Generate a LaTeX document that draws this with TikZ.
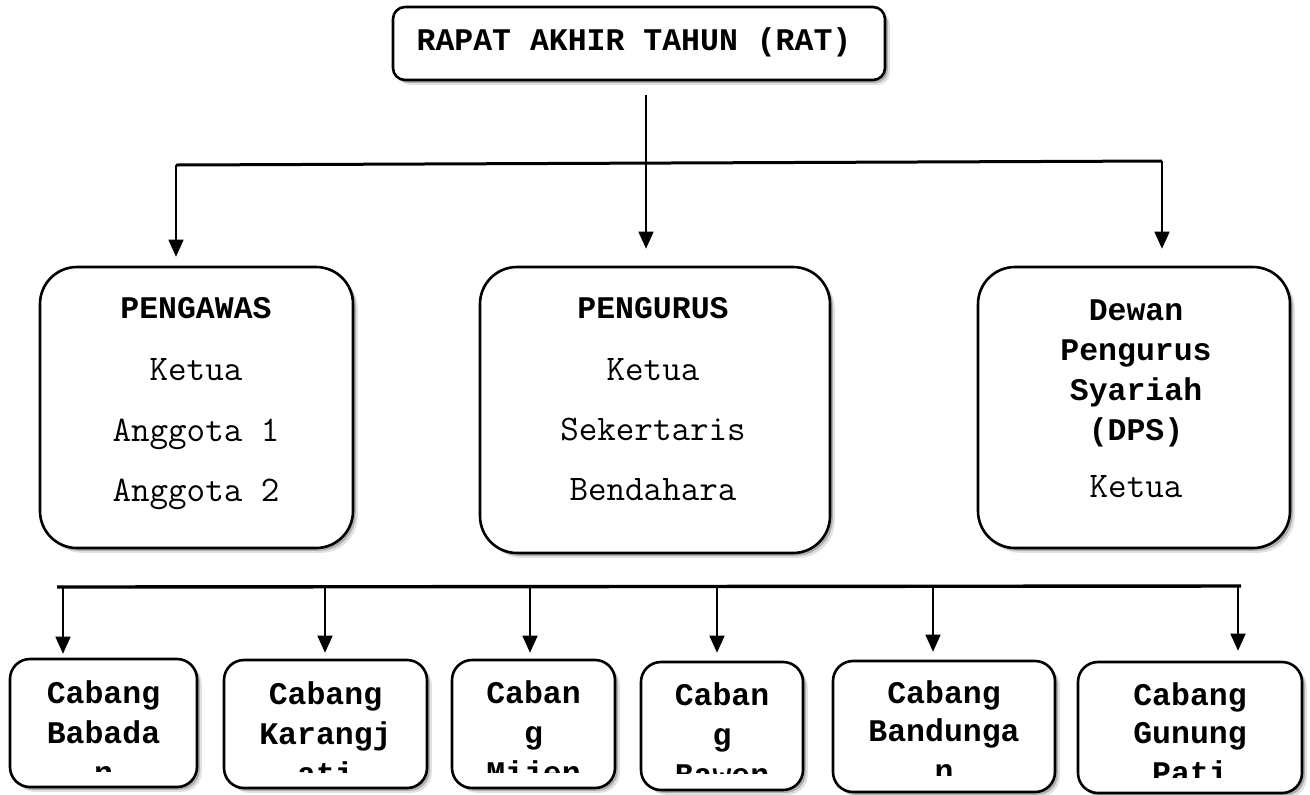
\documentclass[tikz,border=0pt]{standalone}
\usepackage{fontspec}
\newfontfamily\headfont{Liberation Mono}
\usetikzlibrary{shadows,arrows.meta,calc}
\begin{document}
\begin{tikzpicture}[x=0.5pt,y=-0.5pt,
  box/.style={draw=black,line width=1.3pt,fill=white,inner sep=0pt,
    drop shadow={shadow xshift=2.4pt,shadow yshift=-2.4pt,opacity=0.12,fill=black},
    drop shadow={shadow xshift=1.4pt,shadow yshift=-1.4pt,opacity=0.22,fill=black}},
  bigbox/.style={box,rounded corners=18.5pt},
  smallbox/.style={box,rounded corners=10pt,minimum height=64pt},
  txt/.style={font=\ttfamily\fontsize{18}{20}\selectfont,anchor=base,inner sep=0pt},
  hd/.style={font=\headfont\fontsize{15.75}{18}\selectfont\bfseries,anchor=base,inner sep=0pt},
  bar/.style={line width=1.5pt},
  arr/.style={line width=0.75pt,-{Triangle[length=8.5pt,width=7.5pt]}}]
\useasboundingbox (0,0) rectangle (1310,794);

% top box
\node[box,rounded corners=6pt,minimum width=246pt,minimum height=36.5pt] (rat) at (639,43.5) {};
\node[hd] (ratT) at (634,50) {RAPAT AKHIR TAHUN (RAT)};

% middle boxes
\node[bigbox,minimum width=156.5pt,minimum height=140.5pt] (pgw) at (196.5,407.5) {};
\node[bigbox,minimum width=175pt,minimum height=143pt] (pgr) at (655,410) {};
\node[bigbox,minimum width=156pt,minimum height=140.5pt] (dps) at (1134,407.5) {};

\node[hd] (pgw1) at (196,318) {PENGAWAS};
\node[txt] (pgw2) at (196,380) {Ketua};
\node[txt] (pgw3) at (196,441) {Anggota 1};
\node[txt] (pgw4) at (196,501) {Anggota 2};

\node[hd] (pgr1) at (653,318) {PENGURUS};
\node[txt] (pgr2) at (653,380) {Ketua};
\node[txt] (pgr3) at (653,440) {Sekertaris};
\node[txt] (pgr4) at (653,500) {Bendahara};

\node[hd] (dps1) at (1136,320) {Dewan};
\node[hd] (dps2) at (1136,360) {Pengurus};
\node[hd] (dps3) at (1136,400) {Syariah};
\node[hd] (dps4) at (1136,440) {(DPS)};
\node[txt] (dps5) at (1136,497) {Ketua};

% top connectors
\coordinate (stem) at (646,95);
\coordinate (barL) at (176,165);
\coordinate (barR) at (1162,161);
\draw[bar] (barL) -- (barR);
\draw[arr,shorten >=8.5pt] (stem) -- (stem |- pgr.north);
\draw[arr,shorten >=4.5pt] (barL) -- (barL |- pgw.north);
\draw[arr,shorten >=8.5pt] (barR) -- (barR |- dps.north);

% bottom bar
\coordinate (bL) at (57,587);
\coordinate (bR) at (1241,586);
\draw[bar,line width=1.7pt] (bL) -- (bR);
\coordinate (a1) at (63,587);
\coordinate (a2) at (325,587);
\coordinate (a3) at (530,587);
\coordinate (a4) at (717,587);
\coordinate (a5) at (933,587);
\coordinate (a6) at (1238,586);

% bottom boxes
\node[smallbox,minimum width=93.5pt] (b1) at (103.5,723) {};
\node[smallbox,minimum width=101.5pt] (b2) at (325.5,724) {};
\node[smallbox,minimum width=81.5pt] (b3) at (533.5,724) {};
\node[smallbox,minimum width=81pt] (b4) at (722,726) {};
\node[smallbox,minimum width=111pt,minimum height=65.5pt] (b5) at (944,726.5) {};
\node[smallbox,minimum width=112pt,minimum height=65.5pt] (b6) at (1190,727.5) {};

\draw[arr,shorten >=2pt] (a1) -- (a1 |- b1.north);
\draw[arr,shorten >=3pt] (a2) -- (a2 |- b2.north);
\draw[arr,shorten >=3pt] (a3) -- (a3 |- b3.north);
\draw[arr,shorten >=4pt] (a4) -- (a4 |- b4.north);
\draw[arr,shorten >=4pt] (a5) -- (a5 |- b5.north);
\draw[arr,shorten >=5pt] (a6) -- (a6 |- b6.north);

% bottom texts (third line clipped)
\begin{scope}
\clip (b1.north west) rectangle (b1.east |- 0,771);
\node[hd] (t1a) at (103.5,703) {Cabang};
\node[hd] (t1b) at (103.5,743) {Babada};
\node[hd] (t1c) at (103.5,783) {n};
\end{scope}
\begin{scope}
\clip (b2.north west) rectangle (b2.east |- 0,772);
\node[hd] (t2a) at (325.5,704) {Cabang};
\node[hd] (t2b) at (325.5,744) {Karangj};
\node[hd] (t2c) at (325.5,784) {ati};
\end{scope}
\begin{scope}
\clip (b3.north west) rectangle (b3.east |- 0,772);
\node[hd] (t3a) at (533.5,703) {Caban};
\node[hd] (t3b) at (533.5,743) {g};
\node[hd] (t3c) at (533.5,783) {Mijen};
\end{scope}
\begin{scope}
\clip (b4.north west) rectangle (b4.east |- 0,773);
\node[hd] (t4a) at (722,705) {Caban};
\node[hd] (t4b) at (722,745) {g};
\node[hd] (t4c) at (722,785) {Bawen};
\end{scope}
\begin{scope}
\clip (b5.north west) rectangle (b5.east |- 0,775);
\node[hd] (t5a) at (944,703) {Cabang};
\node[hd] (t5b) at (944,741) {Bandunga};
\node[hd] (t5c) at (944,781) {n};
\end{scope}
\begin{scope}
\clip (b6.north west) rectangle (b6.east |- 0,777);
\node[hd] (t6a) at (1190,705) {Cabang};
\node[hd] (t6b) at (1190,743) {Gunung};
\node[hd] (t6c) at (1190,783) {Pati};
\end{scope}
\end{tikzpicture}
\end{document}
